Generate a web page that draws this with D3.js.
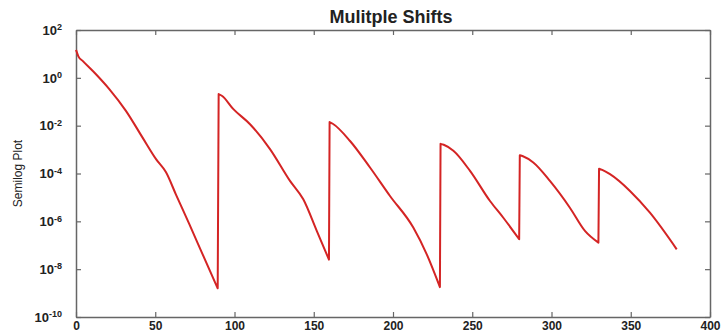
<!DOCTYPE html>
<html>
<head>
<meta charset="utf-8">
<script src="https://cdn.jsdelivr.net/npm/d3@7"></script>
<style>
  body { margin: 0; background: #fff; }
  text { font-family: "Liberation Sans", Arial, sans-serif; }
</style>
</head>
<body>
<svg id="chart" width="722" height="333"></svg>
<script>
// x positions and log10(y), one array per falling segment
var seg1X = [0, 1.5, 4.2, 12.6, 21, 31.5, 42, 50.5, 56.8, 63, 71.5, 79.9, 89.4];
var seg1L = [1.17, 0.9, 0.71, 0.15, -0.47, -1.38, -2.5, -3.4, -3.95, -4.87, -6.12, -7.38, -8.8];
var seg2X = [90, 92, 99.3, 109.8, 122.4, 135, 143.4, 151.9, 159.6];
var seg2L = [-0.68, -0.75, -1.31, -1.94, -2.98, -4.31, -5.08, -6.4, -7.6];
var seg3X = [160, 162, 172.9, 185.5, 198.1, 212.8, 221.3, 229.6];
var seg3L = [-1.85, -1.92, -2.64, -3.75, -4.94, -6.26, -7.38, -8.75];
var seg4X = [230, 232, 238.1, 248.6, 261.2, 269.6, 279.6];
var seg4L = [-2.76, -2.8, -3.05, -3.89, -5.15, -5.85, -6.75];
var seg5X = [280, 282, 288.5, 299, 311.6, 321.1, 329.6];
var seg5L = [-3.24, -3.28, -3.54, -4.31, -5.43, -6.4, -6.89];
var seg6X = [330, 332, 336.9, 349.5, 362.1, 379];
var seg6L = [-3.8, -3.85, -4.03, -4.73, -5.64, -7.17];

var xTicks = [0, 50, 100, 150, 200, 250, 300, 350, 400];
var yTickExp = [2, 0, -2, -4, -6, -8, -10];

var titleText = "Mulitple Shifts";
var yLabel = "Semilog Plot";

var margin = {top: 30, right: 12, bottom: 16, left: 76},
    width = 722 - margin.left - margin.right,
    height = 333 - margin.top - margin.bottom;

var svg = d3.select('#chart');
var g = svg.append('g')
    .attr('transform', 'translate(' + margin.left + ',' + margin.top + ')');

var x = d3.scaleLinear().domain([0, 400]).range([0, width]);
var y = d3.scaleLog().domain([1e-10, 1e2]).range([height, 0]);

var segments = [[seg1X, seg1L], [seg2X, seg2L], [seg3X, seg3L], [seg4X, seg4L], [seg5X, seg5L], [seg6X, seg6L]]
    .map(function(s) {
        return s[0].map(function(v, i) { return {x: v, y: Math.pow(10, s[1][i])}; });
    });

var axisColor = '#666';
var tickVals = yTickExp.map(function(e) { return Math.pow(10, e); });

// frame ticks: bottom/left with labels, top/right without
var xAxis = d3.axisBottom(x).tickValues(xTicks).tickSizeInner(-5).tickSizeOuter(0).tickPadding(4);
var xAxisTop = d3.axisTop(x).tickValues(xTicks).tickSizeInner(-5).tickSizeOuter(0).tickFormat('');
var yAxis = d3.axisLeft(y).tickValues(tickVals).tickSizeInner(-5).tickSizeOuter(0).tickFormat('');
var yAxisRight = d3.axisRight(y).tickValues(tickVals).tickSizeInner(-5).tickSizeOuter(0).tickFormat('');

var gx = g.append('g').attr('transform', 'translate(0,' + height + ')').call(xAxis);
g.append('g').call(xAxisTop);
var gy = g.append('g').call(yAxis);
g.append('g').attr('transform', 'translate(' + width + ',0)').call(yAxisRight);

g.selectAll('.domain').attr('stroke', axisColor).attr('stroke-width', 1.5);
g.selectAll('.tick line').attr('stroke', axisColor).attr('stroke-width', 1.2);
gx.selectAll('.tick text')
    .attr('font-size', 12).attr('font-weight', 'bold').attr('fill', '#222');

// y labels as 10 with a superscript exponent
gy.selectAll('.tick').each(function(d) {
    var e = Math.round(Math.log10(d));
    var t = d3.select(this).append('text')
        .attr('x', -14).attr('dy', '0.32em')
        .attr('text-anchor', 'end')
        .attr('fill', '#222')
        .attr('font-weight', 'bold')
        .attr('font-size', 13);
    t.append('tspan').text('10');
    t.append('tspan').attr('dy', '-0.5em').attr('font-size', 9).text(e);
});

var line = d3.line()
    .curve(d3.curveMonotoneX)
    .x(function(d) { return x(d.x); })
    .y(function(d) { return y(d.y); });

// smooth within each segment, straight vertical jump between them
var pathD = segments.map(function(s, i) {
    var d = line(s);
    return i === 0 ? d : 'L' + d.slice(1);
}).join('');

g.append('path')
    .attr('fill', 'none')
    .attr('stroke', '#d42424')
    .attr('stroke-width', 2)
    .attr('stroke-linejoin', 'round')
    .attr('d', pathD);

svg.append('text')
    .attr('x', 391)
    .attr('y', 23)
    .attr('text-anchor', 'middle')
    .attr('font-size', 18)
    .attr('font-weight', 'bold')
    .attr('fill', '#222')
    .text(titleText);

svg.append('text')
    .attr('transform', 'translate(22,' + (margin.top + height / 2) + ') rotate(-90)')
    .attr('text-anchor', 'middle')
    .attr('font-size', 12)
    .attr('fill', '#222')
    .text(yLabel);
</script>
</body>
</html>
